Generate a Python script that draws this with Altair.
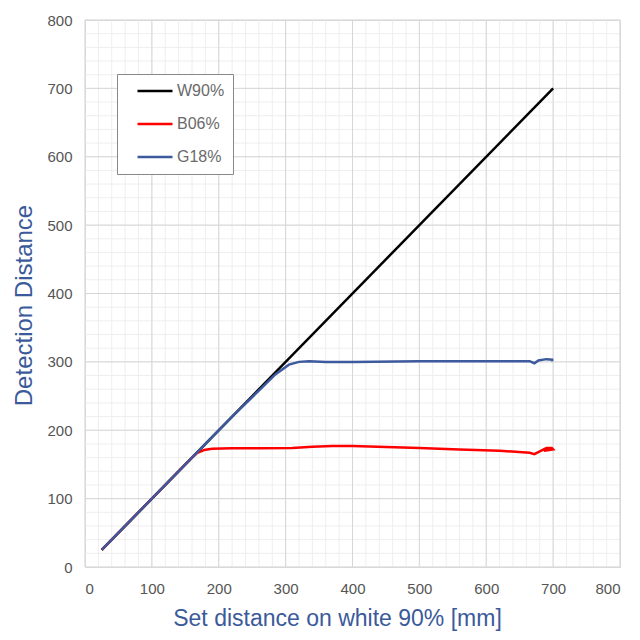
import altair as alt
import pandas as pd

w90_x = [25, 700]
w90_y = [25, 700]

b06_x = [25, 100, 150, 160, 168, 178, 190, 220, 260, 310, 340, 370, 400, 450, 500, 560, 620, 665, 672, 680, 690, 698, 700, 694, 686]
b06_y = [25, 100, 150, 160, 167, 171, 173, 173.5, 173.5, 174, 176, 177, 177, 175.5, 174, 172, 170, 167, 165, 169, 174, 174, 172, 171, 170]

g18_x = [25, 100, 180, 220, 260, 285, 305, 320, 335, 360, 400, 500, 600, 665, 672, 678, 690, 700, 697]
g18_y = [25, 100, 180, 220, 258, 282, 296, 300, 301, 300, 300, 301, 301, 301, 298, 302, 304, 303, 302]

series = ["W90%", "B06%", "G18%"]
colors = ["#000000", "#ff0000", "#3d5a9e"]

rows = []
for name, xs, ys in [("W90%", w90_x, w90_y), ("B06%", b06_x, b06_y), ("G18%", g18_x, g18_y)]:
    for i, (x, y) in enumerate(zip(xs, ys)):
        rows.append({"series": name, "x": x, "y": y, "i": i})
df = pd.DataFrame(rows)

font = "Liberation Sans"
title_color = "#3b5a9a"

chart = alt.Chart(df).mark_line(strokeWidth=2.5).encode(
    x=alt.X("x:Q", scale=alt.Scale(domain=[0, 800], nice=False),
            axis=alt.Axis(title="Set distance on white 90% [mm]", values=list(range(0, 801, 100)),
                          labelFontSize=15, labelColor="#555555", labelFont=font,
                          titleFont=font, titleFontSize=23, titleColor=title_color, titleFontWeight="normal",
                          titleX=252, titleY=51, titleBaseline="middle", titleAlign="center",
                          labelPadding=14, ticks=False, domain=False, grid=False)),
    y=alt.Y("y:Q", scale=alt.Scale(domain=[0, 800], nice=False),
            axis=alt.Axis(title="Detection Distance", values=list(range(0, 801, 100)),
                          labelFontSize=15, labelColor="#555555", labelFont=font,
                          titleFont=font, titleFontSize=24, titleColor=title_color, titleFontWeight="normal",
                          titleX=-61, titleY=285, titleBaseline="middle", titleAlign="center", titleAngle=270,
                          labelPadding=13, ticks=False, domain=False, grid=False)),
    color=alt.Color("series:N", scale=alt.Scale(domain=series, range=colors),
                    legend=alt.Legend(title=None, orient="none", legendX=32, legendY=54,
                                      symbolType="stroke", symbolSize=1225, symbolStrokeWidth=2.5,
                                      labelFontSize=16, labelColor="#6a6a6a", labelFont=font,
                                      clipHeight=18, rowPadding=15, symbolOffset=11,
                                      strokeColor="#888888", fillColor="white",
                                      padding=8, labelOffset=3)),
    order=alt.Order("i:Q"),
    detail="series:N",
)

minor_x = pd.DataFrame({"v": list(range(0, 801, 20))})
grid_minor_x = alt.Chart(minor_x).mark_rule(color="#eeeeee", strokeWidth=1).encode(x=alt.X("v:Q"))
grid_minor_y = alt.Chart(minor_x).mark_rule(color="#eeeeee", strokeWidth=1).encode(y=alt.Y("v:Q"))
major = pd.DataFrame({"v": list(range(0, 801, 100))})
grid_major_x = alt.Chart(major).mark_rule(color="#d6d6d6", strokeWidth=1).encode(x=alt.X("v:Q"))
grid_major_y = alt.Chart(major).mark_rule(color="#d6d6d6", strokeWidth=1).encode(y=alt.Y("v:Q"))

final = alt.layer(grid_minor_x, grid_minor_y, grid_major_x, grid_major_y, chart).properties(
    width=535, height=547,
    autosize=alt.AutoSizeParams(type="none"),
    padding={"left": 77, "top": 12, "right": 12, "bottom": 65},
    background="white",
).configure_view(stroke="#cccccc")

final.save("out.html", embed_options={"renderer": "svg", "actions": False})
